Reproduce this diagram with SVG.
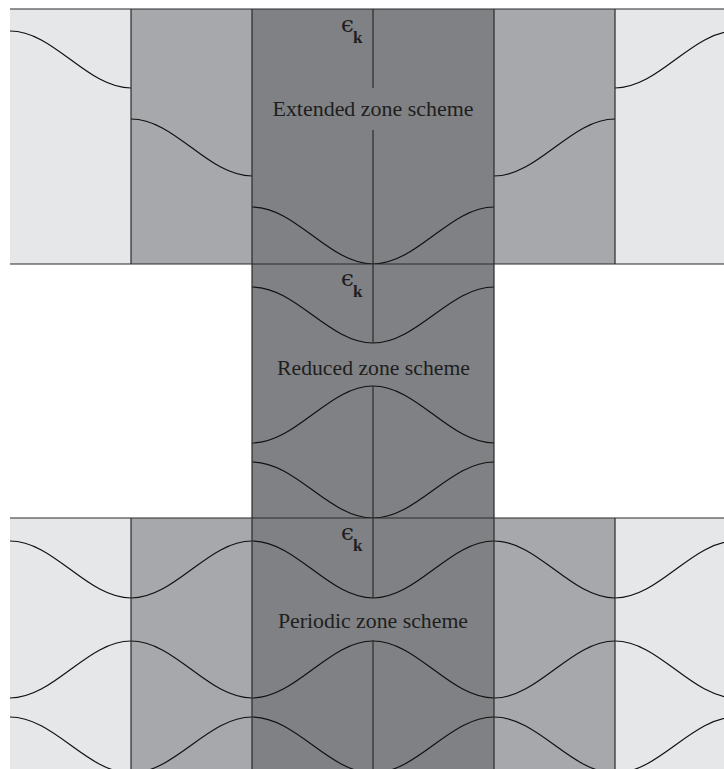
<svg xmlns="http://www.w3.org/2000/svg" width="724" height="769" viewBox="0 0 724 769">
  <style>
    .light { fill: #e6e7e9; }
    .mid { fill: #a7a8ab; }
    .dark { fill: #808184; }
    .frame { stroke: #2b2b2b; stroke-width: 1.2; fill: none; }
    .band { stroke: #111; stroke-width: 1.2; fill: none; }
    .axis { stroke: #2b2b2b; stroke-width: 1.2; fill: none; }
    .title { font-family: "Liberation Serif", "Times New Roman", serif; font-size: 21px; fill: #1e1e1e; }
    .eps { font-family: "DejaVu Serif", "Liberation Serif", serif; font-size: 23px; fill: #1e1e1e; }
    .sub { font-family: "Liberation Serif", "DejaVu Serif", serif; font-size: 17px; font-weight: bold; fill: #1e1e1e; }
  </style>
  <rect x="0" y="0" width="724" height="769" fill="#ffffff"/>

  <!-- Extended zone scheme panel -->
  <g id="extended">
    <rect class="light" x="10" y="9" width="121" height="255"/>
    <rect class="mid" x="131" y="9" width="121" height="255"/>
    <rect class="dark" x="252" y="9" width="242" height="255"/>
    <rect class="mid" x="494" y="9" width="121" height="255"/>
    <rect class="light" x="615" y="9" width="121" height="255"/>
    <path class="band" d="M10,31 C54,31 87,88 131,88"/>
    <path class="band" d="M131,119 C175,119 208,176 252,176"/>
    <path class="band" d="M252,207 C296,207 329,264 373,264 C417,264 450,207 494,207"/>
    <path class="band" d="M494,176 C538,176 571,119 615,119"/>
    <path class="band" d="M615,88 C659,88 692,31 736,31"/>
    <path class="axis" d="M373,9 V88 M373,130 V264"/>
    <text class="eps" x="341" y="32">ϵ</text>
    <text class="sub" x="353" y="43">k</text>
    <text class="title" x="373" y="116" text-anchor="middle" textLength="201" lengthAdjust="spacingAndGlyphs">Extended zone scheme</text>
  </g>

  <!-- Reduced zone scheme panel -->
  <g id="reduced">
    <rect class="dark" x="252" y="264" width="242" height="254"/>
    <path class="band" d="M252,287 C296,287 329,343 373,343 C417,343 450,287 494,287"/>
    <path class="band" d="M252,443 C296,443 329,386 373,386 C417,386 450,443 494,443"/>
    <path class="band" d="M252,462 C296,462 329,518 373,518 C417,518 450,462 494,462"/>
    <path class="axis" d="M373,264 V343 M373,386 V518"/>
    <text class="eps" x="341" y="286">ϵ</text>
    <text class="sub" x="353" y="297">k</text>
    <text class="title" x="373.5" y="374.5" text-anchor="middle" textLength="193" lengthAdjust="spacingAndGlyphs">Reduced zone scheme</text>
  </g>

  <!-- Periodic zone scheme panel -->
  <g id="periodic">
    <rect class="light" x="10" y="518" width="121" height="251"/>
    <rect class="mid" x="131" y="518" width="121" height="251"/>
    <rect class="dark" x="252" y="518" width="242" height="251"/>
    <rect class="mid" x="494" y="518" width="121" height="251"/>
    <rect class="light" x="615" y="518" width="121" height="251"/>
    <path class="band" d="M10,541 C54,541 87,598 131,598 C175,598 208,541 252,541 C296,541 329,598 373,598 C417,598 450,541 494,541 C538,541 571,598 615,598 C659,598 692,541 736,541"/>
    <path class="band" d="M10,698 C54,698 87,641 131,641 C175,641 208,698 252,698 C296,698 329,641 373,641 C417,641 450,698 494,698 C538,698 571,641 615,641 C659,641 692,698 736,698"/>
    <path class="band" d="M10,717 C54,717 87,773 131,773 C175,773 208,717 252,717 C296,717 329,773 373,773 C417,773 450,717 494,717 C538,717 571,773 615,773 C659,773 692,717 736,717"/>
    <path class="axis" d="M373,518 V598 M373,640 V769"/>
    <text class="eps" x="341" y="540">ϵ</text>
    <text class="sub" x="353" y="551">k</text>
    <text class="title" x="373" y="627.5" text-anchor="middle" textLength="190" lengthAdjust="spacingAndGlyphs">Periodic zone scheme</text>
  </g>

  <!-- Frame lines -->
  <g id="frame">
    <path class="frame" d="M10,9 H724 M10,264 H724 M10,518 H724"/>
    <path class="frame" d="M131,9 V264 M615,9 V264 M131,518 V769 M615,518 V769"/>
    <path class="frame" d="M252,9 V769 M494,9 V769"/>
  </g>
</svg>
